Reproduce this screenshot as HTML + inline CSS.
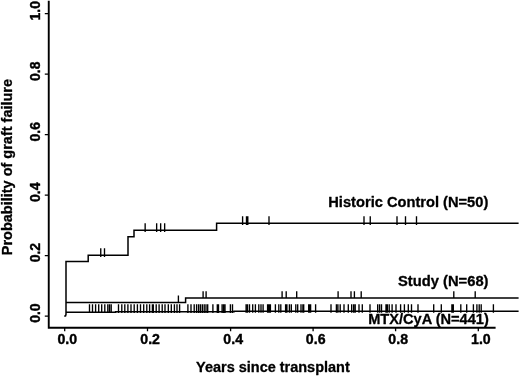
<!DOCTYPE html>
<html><head><meta charset="utf-8"><title>Probability of graft failure</title>
<style>
html,body{margin:0;padding:0;background:#fff;}
svg{display:block}
text{font-family:"Liberation Sans",Arial,Helvetica,sans-serif;font-weight:bold;font-size:14.6px;fill:#000;stroke:#000;stroke-width:0.3px;stroke-linejoin:round}
.tk text{stroke-width:0.4px}
</style></head>
<body>
<svg width="520" height="376" viewBox="0 0 520 376">
<rect width="520" height="376" fill="#fff"/>
<path d="M48.75,0.8V327.7H495.6" fill="none" stroke="#000" stroke-width="1.9"/>
<path d="M64.7,327.7V331.3M147.5,327.7V331.3M230.6,327.7V331.3M313.1,327.7V331.3M395.6,327.7V331.3M478.3,327.7V331.3M48.75,316.1H44.8M48.75,255.6H44.8M48.75,195.2H44.8M48.75,134.7H44.8M48.75,74.2H44.8M48.75,13.7H44.8" fill="none" stroke="#000" stroke-width="1.3"/>
<path d="M64.3,316.2L65.6,315.8L66.0,314.3V261.5H88.2V255.3H128V236.8H134V230.2H216.6V223.2H518.6M66.0,302.6H185.6V298.1H518.6M66.0,312.2H115.6V311.65H234V311.15H518.6" fill="none" stroke="#000" stroke-width="1.5" stroke-linejoin="miter"/>
<path d="M100.75,248.20V257.10M104.50,248.20V257.10M145.15,223.20V232.00M156.65,223.20V232.00M160.65,223.20V232.00M164.65,223.20V232.00M242.60,216.20V225.00M246.50,216.20V225.00M247.80,216.20V225.00M269.00,216.20V225.00M364.00,216.20V225.00M370.25,216.20V225.00M397.00,216.20V225.00M405.50,216.20V225.00M416.50,216.20V225.00M178.40,295.60V302.60M203.10,291.30V298.10M206.10,291.30V298.10M282.10,291.30V298.10M286.20,291.30V298.10M296.70,291.30V298.10M338.10,291.30V298.10M351.00,291.30V298.10M354.40,291.30V298.10M361.20,291.30V298.10M453.80,291.30V298.10M475.20,291.30V298.10M89.50,304.15V313.05M92.50,304.15V313.05M95.60,304.15V313.05M98.70,304.15V313.05M101.70,304.15V313.05M104.80,304.15V313.05M107.80,304.15V313.05M109.50,304.15V313.05M111.20,304.15V313.05M118.50,304.15V313.05M121.80,304.15V313.05M124.80,304.15V313.05M127.90,304.15V313.05M131.00,304.15V313.05M134.20,304.15V313.05M137.40,304.15V313.05M140.50,304.15V313.05M143.70,304.15V313.05M146.80,304.15V313.05M149.60,304.15V313.05M152.40,304.15V313.05M153.30,304.15V313.05M156.20,304.15V313.05M159.10,304.15V313.05M162.20,304.15V313.05M165.00,304.15V313.05M168.30,304.15V313.05M171.30,304.15V313.05M174.40,304.15V313.05M177.00,304.15V313.05M179.60,304.15V313.05M187.90,304.15V313.05M191.00,304.15V313.05M194.20,304.15V313.05M196.60,304.15V313.05M198.60,304.15V313.05M200.40,304.15V313.05M202.30,304.15V313.05M204.20,304.15V313.05M206.00,304.15V313.05M207.70,304.15V313.05M212.90,304.15V313.05M217.30,304.15V313.05M218.50,304.15V313.05M222.10,304.15V313.05M223.60,304.15V313.05M225.00,304.15V313.05M230.40,304.15V313.05M232.50,304.15V313.05M246.10,304.15V312.65M247.50,304.15V312.65M249.50,304.15V312.65M252.70,304.15V312.65M255.40,304.15V312.65M258.80,304.15V312.65M261.00,304.15V312.65M263.10,304.15V312.65M267.60,304.15V312.65M268.60,304.15V312.65M269.60,304.15V312.65M270.40,304.15V312.65M275.40,304.15V312.65M278.80,304.15V312.65M280.80,304.15V312.65M285.60,304.15V312.65M286.90,304.15V312.65M289.40,304.15V312.65M291.30,304.15V312.65M295.80,304.15V312.65M297.70,304.15V312.65M301.00,304.15V312.65M302.90,304.15V312.65M303.70,304.15V312.65M308.70,304.15V312.65M309.60,304.15V312.65M310.60,304.15V312.65M315.60,304.15V312.65M331.00,304.15V312.65M336.40,304.15V312.65M337.90,304.15V312.65M340.20,304.15V312.65M344.00,304.15V312.65M348.30,304.15V312.65M351.70,304.15V312.65M353.70,304.15V312.65M355.20,304.15V312.65M359.00,304.15V312.65M362.30,304.15V312.65M370.00,304.15V312.65M377.70,304.15V312.65M379.60,304.15V312.65M381.50,304.15V312.65M386.00,304.15V312.65M387.30,304.15V312.65M389.20,304.15V312.65M392.10,304.15V312.65M396.00,304.15V312.65M400.60,304.15V312.65M404.40,304.15V312.65M408.30,304.15V312.65M411.50,304.15V312.65M418.00,304.15V312.65M433.70,304.15V312.65M441.30,304.15V312.65M451.90,304.15V312.65M452.60,304.15V312.65M453.30,304.15V312.65M460.80,304.15V312.65M466.70,304.15V312.65M473.40,304.15V312.65M476.90,304.15V312.65M479.20,304.15V312.65M481.20,304.15V312.65M493.40,304.15V312.65" fill="none" stroke="#000" stroke-width="1.35"/>
<g class="tk"><text text-anchor="middle" transform="translate(67.3 343.5) scale(0.97 1.0)">0.0</text><text text-anchor="middle" transform="translate(150.1 343.5) scale(0.97 1.0)">0.2</text><text text-anchor="middle" transform="translate(233.2 343.5) scale(0.97 1.0)">0.4</text><text text-anchor="middle" transform="translate(315.7 343.5) scale(0.97 1.0)">0.6</text><text text-anchor="middle" transform="translate(398.2 343.5) scale(0.97 1.0)">0.8</text><text text-anchor="middle" transform="translate(480.9 343.5) scale(0.97 1.0)">1.0</text></g>
<g class="tk"><text text-anchor="middle" transform="translate(40 313.1) rotate(-90) scale(0.96 1.0)">0.0</text><text text-anchor="middle" transform="translate(40 252.6) rotate(-90) scale(0.96 1.0)">0.2</text><text text-anchor="middle" transform="translate(40 192.2) rotate(-90) scale(0.96 1.0)">0.4</text><text text-anchor="middle" transform="translate(40 131.7) rotate(-90) scale(0.96 1.0)">0.6</text><text text-anchor="middle" transform="translate(40 71.2) rotate(-90) scale(0.96 1.0)">0.8</text><text text-anchor="middle" transform="translate(40 10.7) rotate(-90) scale(0.96 1.0)">1.0</text></g>
<text text-anchor="middle" transform="translate(272.9 371.8) scale(0.992 1.04)">Years since transplant</text>
<text text-anchor="middle" transform="translate(12.4 167.1) rotate(-90) scale(0.993 1.06)">Probability of graft failure</text>
<text text-anchor="end" transform="translate(488.3 206.9) scale(1.005 1.06)">Historic Control (N=50)</text>
<text text-anchor="end" transform="translate(488.5 286.3) scale(1.01 1.06)">Study (N=68)</text>
<text text-anchor="end" transform="translate(488.8 323.9) scale(1 1.06)">MTX/CyA (N=441)</text>
</svg>
</body></html>
